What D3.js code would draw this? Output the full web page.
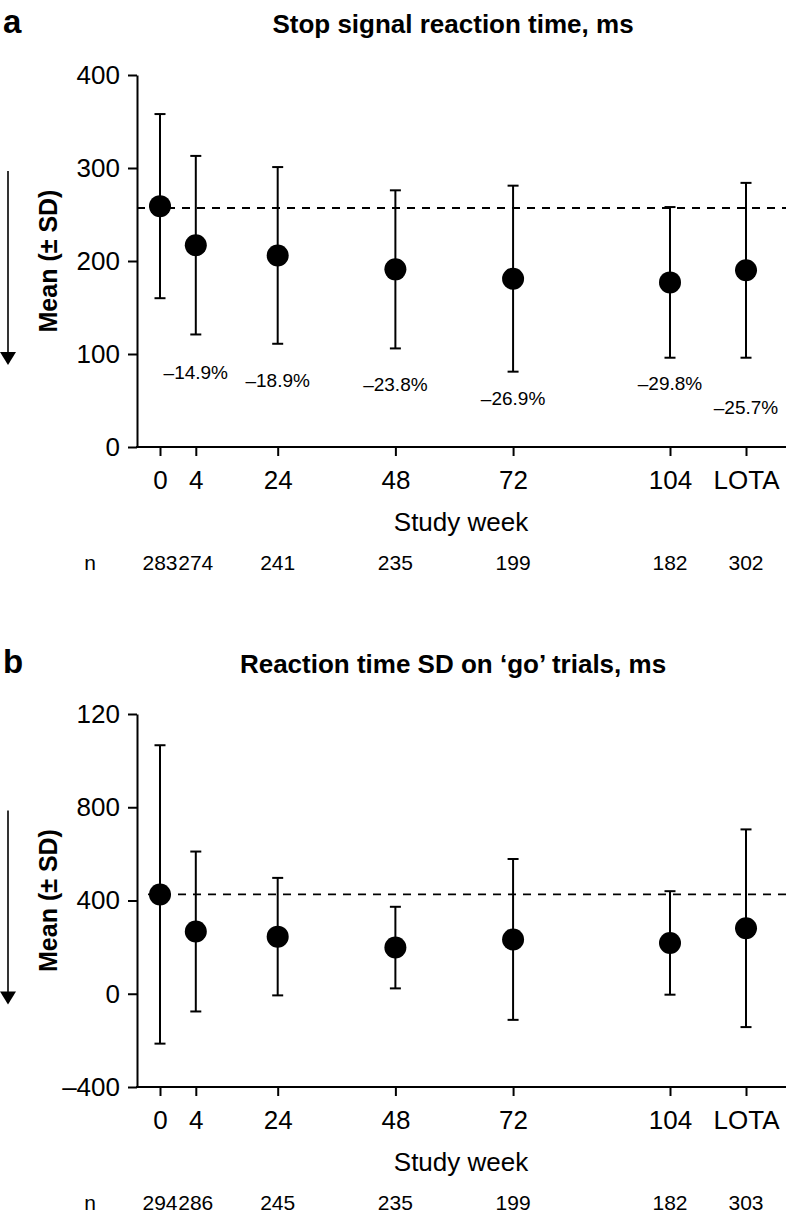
<!DOCTYPE html>
<html>
<head>
<meta charset="utf-8">
<script src="https://cdn.jsdelivr.net/npm/d3@7"></script>
<style>
  body { margin: 0; background: #fff; }
  svg { display: block; font-family: "Liberation Sans", Arial, Helvetica, sans-serif; }
</style>
</head>
<body>
<svg id="chart" width="786" height="1214"></svg>
<script>
// ---------- data ----------
const categories = ["0", "4", "24", "48", "72", "104", "LOTA"];
// axis slot of each category, in study-week units (week 4 and LOTA are nudged as in the original)
const xSlot = [0, 7.3, 24, 48, 72, 104, 119.5];

// Panel a: stop signal reaction time
const ssrtMean = [259, 217, 206, 191, 181, 177, 190];
const ssrtSD   = [99, 96, 95, 85, 100, 81, 94];
const ssrtN    = [283, 274, 241, 235, 199, 182, 302];
const ssrtPct  = ["", "\u201314.9%", "\u201318.9%", "\u201323.8%", "\u201326.9%", "\u201329.8%", "\u201325.7%"];
const ssrtPctAt = [null, 81, 72, 68, 53, 69, 43];   // value level where each % label sits
const ssrtBaseline = 257;
const ssrtTicks = [0, 100, 200, 300, 400];
const ssrtTickLabels = ["0", "100", "200", "300", "400"];

// Panel b: reaction time SD on 'go' trials
const rtsdMean = [426, 267, 245, 198, 233, 218, 281];
const rtsdSD   = [640, 343, 252, 175, 345, 222, 424];
const rtsdN    = [294, 286, 245, 235, 199, 182, 303];
const rtsdBaseline = 426;
const rtsdTicks = [-400, 0, 400, 800, 1200];
const rtsdTickLabels = ["\u2013400", "0", "400", "800", "120"];

// ---------- drawing ----------
const svg = d3.select("#chart");
const AX = 137, RIGHT = 786;
const x = d3.scaleLinear().domain([0, 104]).range([160, 670]);

function panel(opt) {
  const g = svg.append("g");
  const y = d3.scaleLinear().domain(opt.domain).range([opt.bottom, opt.top]);

  // panel letter + title
  g.append("text").attr("x", 3).attr("y", opt.titleY)
    .attr("font-size", 33).attr("font-weight", "bold").text(opt.letter);
  g.append("text").attr("x", 453).attr("y", opt.titleY)
    .attr("text-anchor", "middle").attr("font-size", 26).attr("font-weight", "bold").text(opt.title);

  // y axis
  const yAxis = d3.axisLeft(y).tickValues(opt.ticks)
    .tickFormat((d, i) => opt.tickLabels[i]).tickSize(9).tickSizeOuter(0).tickPadding(8);
  const ya = g.append("g").attr("transform", `translate(${AX},0)`).call(yAxis);
  ya.select(".domain").attr("stroke-width", 2);
  ya.selectAll(".tick line").attr("stroke-width", 2);
  ya.selectAll(".tick text").attr("font-size", 26).attr("fill", "#000")
    .attr("font-family", '"Liberation Sans", Arial, sans-serif');

  // x axis
  const xAxis = d3.axisBottom(x).tickValues(xSlot)
    .tickFormat((d, i) => categories[i]).tickSize(9).tickSizeOuter(0).tickPadding(15);
  const xa = g.append("g").attr("transform", `translate(0,${opt.bottom})`).call(xAxis);
  xa.select(".domain").remove();
  xa.selectAll(".tick line").attr("stroke-width", 2);
  xa.selectAll(".tick text").attr("font-size", 26).attr("fill", "#000")
    .attr("font-family", '"Liberation Sans", Arial, sans-serif');
  g.append("line").attr("x1", AX - 1).attr("x2", RIGHT)
    .attr("y1", opt.bottom).attr("y2", opt.bottom)
    .attr("stroke", "#000").attr("stroke-width", 2);

  // x title
  g.append("text").attr("x", 461).attr("y", opt.bottom + 84)
    .attr("text-anchor", "middle").attr("font-size", 26).text("Study week");

  // n row
  g.append("text").attr("x", 90).attr("y", opt.bottom + 123)
    .attr("text-anchor", "middle").attr("font-size", 21).text("n");
  g.selectAll(".nlab").data(opt.n).enter().append("text")
    .attr("x", (d, i) => x(xSlot[i])).attr("y", opt.bottom + 123)
    .attr("text-anchor", "middle").attr("font-size", 21).text(d => d);

  // y title + arrow
  const yc = (opt.top + opt.bottom) / 2;
  g.append("text").attr("transform", `translate(48,${yc}) rotate(-90)`)
    .attr("text-anchor", "middle").attr("dy", "0.36em")
    .attr("font-size", 25).attr("font-weight", "bold").text("Mean (\u00b1 SD)");
  const aTop = yc - 90, aTip = yc + 104;
  g.append("line").attr("x1", 8).attr("x2", 8).attr("y1", aTop).attr("y2", aTip - 10)
    .attr("stroke", "#000").attr("stroke-width", 1.6);
  g.append("path").attr("d", `M0,${aTip - 13} L16,${aTip - 13} L8,${aTip} Z`).attr("fill", "#000");

  // baseline dashed line
  g.append("line").attr("x1", opt.dashStart).attr("x2", RIGHT)
    .attr("y1", y(opt.baseline)).attr("y2", y(opt.baseline))
    .attr("stroke", "#000").attr("stroke-width", 1.8).attr("stroke-dasharray", "8,7");

  // error bars
  const cap = 5.5;
  const eb = g.selectAll(".eb").data(opt.mean).enter().append("g");
  eb.append("line")
    .attr("x1", (d, i) => x(xSlot[i])).attr("x2", (d, i) => x(xSlot[i]))
    .attr("y1", (d, i) => y(d + opt.sd[i])).attr("y2", (d, i) => y(d - opt.sd[i]))
    .attr("stroke", "#000").attr("stroke-width", 2);
  eb.append("line")
    .attr("x1", (d, i) => x(xSlot[i]) - cap).attr("x2", (d, i) => x(xSlot[i]) + cap)
    .attr("y1", (d, i) => y(d + opt.sd[i])).attr("y2", (d, i) => y(d + opt.sd[i]))
    .attr("stroke", "#000").attr("stroke-width", 2);
  eb.append("line")
    .attr("x1", (d, i) => x(xSlot[i]) - cap).attr("x2", (d, i) => x(xSlot[i]) + cap)
    .attr("y1", (d, i) => y(d - opt.sd[i])).attr("y2", (d, i) => y(d - opt.sd[i]))
    .attr("stroke", "#000").attr("stroke-width", 2);
  eb.append("circle")
    .attr("cx", (d, i) => x(xSlot[i])).attr("cy", d => y(d)).attr("r", 11).attr("fill", "#000");

  // percent labels
  if (opt.pct) {
    g.selectAll(".pct").data(opt.pct).enter().append("text")
      .filter(d => d !== "")
      .attr("x", (d) => x(xSlot[opt.pct.indexOf(d)]))
      .attr("y", (d) => y(opt.pctAt[opt.pct.indexOf(d)]))
      .attr("dy", "0.36em").attr("text-anchor", "middle").attr("font-size", 19).text(d => d);
  }
}

panel({
  letter: "a", title: "Stop signal reaction time, ms", titleY: 33,
  domain: [0, 400], top: 75, bottom: 447,
  ticks: ssrtTicks, tickLabels: ssrtTickLabels,
  mean: ssrtMean, sd: ssrtSD, n: ssrtN, baseline: ssrtBaseline, dashStart: AX,
  pct: ssrtPct, pctAt: ssrtPctAt
});

panel({
  letter: "b", title: "Reaction time SD on \u2018go\u2019 trials, ms", titleY: 673,
  domain: [-400, 1200], top: 714, bottom: 1087,
  ticks: rtsdTicks, tickLabels: rtsdTickLabels,
  mean: rtsdMean, sd: rtsdSD, n: rtsdN, baseline: rtsdBaseline, dashStart: 148
});
</script>
</body>
</html>
